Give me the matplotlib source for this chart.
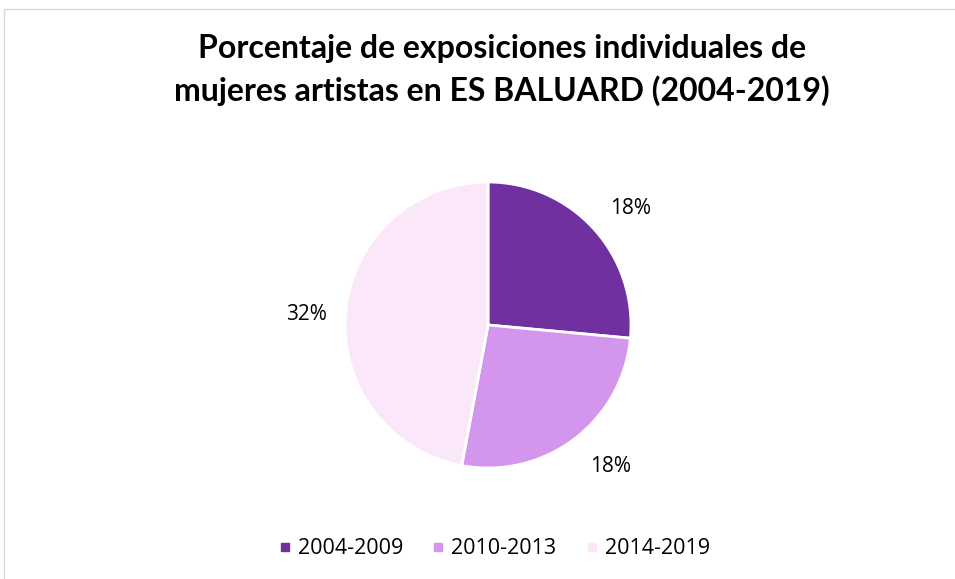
import matplotlib.pyplot as plt
from matplotlib.lines import Line2D
from matplotlib.patches import Rectangle
import numpy as np

periods = ["2004-2009", "2010-2013", "2014-2019"]
values = [18, 18, 32]
labels = ["18%", "18%", "32%"]
colors = ["#7030A0", "#D396EC", "#FAE8FA"]

plt.rcParams["font.family"] = ["Open Sans", "DejaVu Sans"]

fig = plt.figure(figsize=(9.55, 5.79), dpi=100)
W, H = 955, 579

# chart frame
fig.patches.append(Rectangle((4 / W, -0.01), 1.0, (579 - 9) / H + 0.01, transform=fig.transFigure,
                             fill=False, edgecolor="#D9D9D9", linewidth=1))

fig.text(502 / W, 1 - 70 / H, "Porcentaje de exposiciones individuales de\nmujeres artistas en ES BALUARD (2004-2019)",
         ha="center", va="center", fontsize=23, fontweight="bold", family=["Lato", "DejaVu Sans"],
         linespacing=1.5, color="#000000")

cx, cy, r = 488, 325, 143
ax = fig.add_axes([(cx - r) / W, (H - cy - r) / H, 2 * r / W, 2 * r / H])
wedges, _ = ax.pie(values, colors=colors, startangle=90, counterclock=False,
                   wedgeprops=dict(edgecolor="white", linewidth=2))
ax.set_xlim(-1, 1)
ax.set_ylim(-1, 1)
ax.set_aspect("equal")

# label distance / angle nudge per slice
dists = [1.29, 1.31, 1.27]
nudge = [-3, 4, 2]
for w, lab, d, n in zip(wedges, labels, dists, nudge):
    ang = np.deg2rad((w.theta1 + w.theta2) / 2 + n)
    ax.text(d * np.cos(ang), d * np.sin(ang), lab, ha="center", va="center",
            fontsize=15, color="#000000", clip_on=False)

handles = [Line2D([], [], marker="s", linestyle="none", markersize=6,
                  markerfacecolor=c, markeredgecolor=c) for c in colors]
fig.legend(handles, periods, loc="center", bbox_to_anchor=(493 / W, 1 - 549 / H), ncol=3,
           frameon=False, fontsize=15.5, handletextpad=0.2, columnspacing=1.25, handlelength=0.8)

fig.savefig("out.png", dpi=100)
